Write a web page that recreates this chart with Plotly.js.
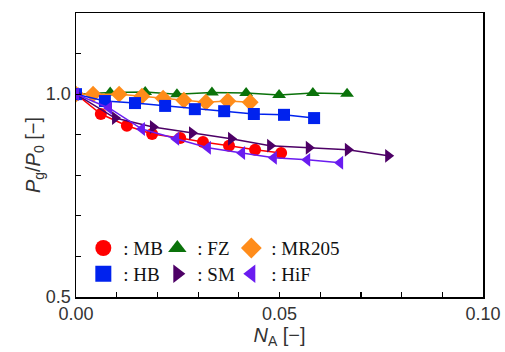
<!DOCTYPE html>
<html>
<head>
<meta charset="utf-8">
<script src="https://cdn.plot.ly/plotly-3.0.1.min.js"></script>
<style>html,body{margin:0;padding:0;background:#fff;}#chart{width:505px;height:352px;}</style>
</head>
<body>
<div id="chart"></div>
<script>
// Data
const seriesNames = ["MB", "FZ", "MR205", "HB", "SM", "HiF"];

const mbX = [0, 0.0061, 0.0125, 0.0187, 0.0256, 0.0312, 0.0376, 0.0440, 0.0504];
const mbY = [1.0, 0.951, 0.922, 0.902, 0.892, 0.882, 0.873, 0.863, 0.855];

const fzX = [0, 0.0084, 0.0170, 0.0248, 0.0334, 0.0418, 0.0499, 0.0582, 0.0666];
const fzY = [1.0, 1.004, 1.005, 1.0, 1.004, 1.003, 0.998, 1.003, 1.001];

const mrX = [0, 0.0042, 0.0106, 0.0162, 0.0214, 0.0265, 0.0319, 0.0373, 0.0428];
const mrY = [1.0, 1.0, 1.0, 0.995, 0.99, 0.985, 0.98, 0.983, 0.98];

const hbX = [0, 0.0071, 0.0145, 0.0219, 0.0292, 0.0364, 0.0437, 0.0511, 0.0585];
const hbY = [1.0, 0.983, 0.978, 0.971, 0.963, 0.958, 0.951, 0.949, 0.941];

const smX = [0, 0.0096, 0.0189, 0.0285, 0.0381, 0.0477, 0.0572, 0.0668, 0.0767];
const smY = [1.0, 0.941, 0.919, 0.904, 0.890, 0.873, 0.868, 0.863, 0.848];

const hifX = [0, 0.0081, 0.0162, 0.0246, 0.0324, 0.0408, 0.0486, 0.0568, 0.0649];
const hifY = [1.0, 0.966, 0.914, 0.890, 0.868, 0.855, 0.843, 0.838, 0.831];

const xTickVals = [0, 0.05, 0.10];
const xTickText = ["0.00", "0.05", "0.10"];
const yTickVals = [0.5, 1.0];
const yTickText = ["0.5", "1.0"];

const xs = [mbX, fzX, mrX, hbX, smX, hifX];
const ys = [mbY, fzY, mrY, hbY, smY, hifY];
const colors = ["#ff0000", "#0a720a", "#ff8c1a", "#0022ee", "#4d0066", "#6a1cf0"];
const symbols = ["circle", "triangle-up", "diamond", "square", "triangle-right", "triangle-left"];
const sizes = [12, 12, 13, 12, 12, 12];
const legendIds = ["legend", "legend", "legend", "legend2", "legend2", "legend2"];

const traces = [];
for (let i = 0; i < seriesNames.length; i++) {
  traces.push({
    x: xs[i], y: ys[i], type: "scatter", mode: "lines+markers",
    line: {color: colors[i], width: 1.5},
    marker: {color: colors[i], symbol: symbols[i], size: sizes[i]},
    showlegend: false, hoverinfo: "skip"
  });
}
for (let i = 0; i < seriesNames.length; i++) {
  traces.push({
    x: [null], y: [null], type: "scatter", mode: "markers",
    name: ":&nbsp;" + seriesNames[i],
    marker: {color: colors[i], symbol: symbols[i], size: 17},
    showlegend: true, legend: legendIds[i]
  });
}
// invisible spacer entries so the last visible legend label is not clipped
["legend", "legend2"].forEach(function (lg) {
  traces.push({
    x: [null], y: [null], type: "scatter", mode: "markers",
    name: "&nbsp;", marker: {color: "rgba(0,0,0,0)", size: 1},
    showlegend: true, legend: lg
  });
});

const legendCommon = {
  orientation: "h", bgcolor: "rgba(0,0,0,0)", borderwidth: 0,
  font: {family: "Liberation Serif", size: 19, color: "#111"},
  xanchor: "left", yanchor: "middle", itemsizing: "trace",
  entrywidth: 29, entrywidthmode: "pixels", tracegroupgap: 0, itemwidth: 30
};

const layout = {
  width: 505, height: 352,
  margin: {l: 76, r: 22, t: 13, b: 55},
  paper_bgcolor: "#fff", plot_bgcolor: "#fff",
  showlegend: true,
  legend: Object.assign({}, legendCommon, {x: 0.018, y: 0.172}),
  legend2: Object.assign({}, legendCommon, {x: 0.018, y: 0.081}),
  xaxis: {
    range: [0, 0.10], tickmode: "array", tickvals: xTickVals, ticktext: xTickText,
    ticks: "inside", ticklen: 5, tickwidth: 1.2, tickcolor: "#000",
    minor: {dtick: 0.01, tick0: 0, ticks: "inside", ticklen: 5, tickwidth: 1.2, tickcolor: "#000", showgrid: false},
    showline: true, linecolor: "#000", linewidth: 1.5, mirror: true,
    showgrid: false, zeroline: false,
    tickfont: {family: "Liberation Sans", size: 18, color: "#333"},
    title: {text: "<i>N</i><sub>A</sub> [−]", font: {family: "Liberation Sans", size: 20, color: "#333"}, standoff: 2}
  },
  yaxis: {
    range: [0.5, 1.2], tickmode: "array", tickvals: yTickVals, ticktext: yTickText,
    ticks: "inside", ticklen: 5, tickwidth: 1.2, tickcolor: "#000",
    minor: {dtick: 0.1, tick0: 0.5, ticks: "inside", ticklen: 5, tickwidth: 1.2, tickcolor: "#000", showgrid: false},
    showline: true, linecolor: "#000", linewidth: 1.5, mirror: true,
    showgrid: false, zeroline: false,
    tickfont: {family: "Liberation Sans", size: 18, color: "#333"},
    title: {text: "<i>P</i><sub>g</sub>/<i>P</i><sub>0</sub> [−]", font: {family: "Liberation Sans", size: 20, color: "#333"}, standoff: 0}
  }
};

Plotly.newPlot("chart", traces, layout, {displayModeBar: false, staticPlot: true});
</script>
</body>
</html>
